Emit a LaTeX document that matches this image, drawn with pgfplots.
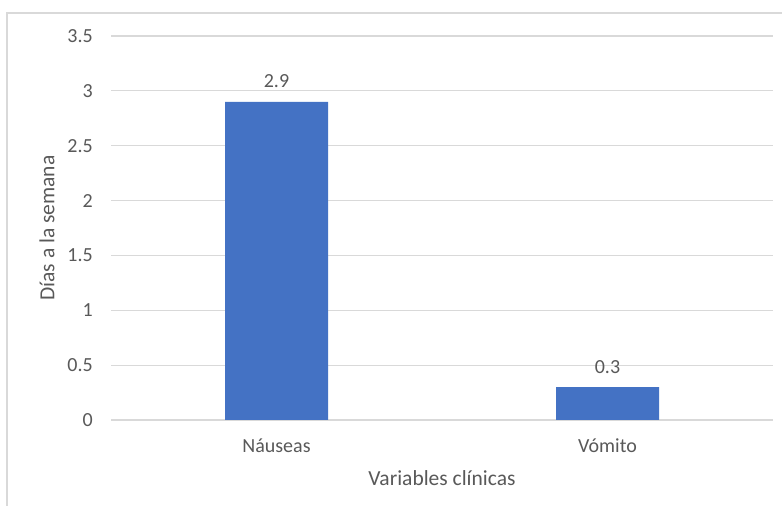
\documentclass[border=0pt]{standalone}
\usepackage{fontspec}
\setmainfont{Carlito}
\usepackage{pgfplots}
\pgfplotsset{compat=1.18}
\definecolor{barblue}{HTML}{4472C4}
\definecolor{txtgray}{HTML}{595959}
\definecolor{gridgray}{HTML}{D9D9D9}
\begin{document}
\begin{tikzpicture}[x=1bp,y=1bp]
\useasboundingbox (0,0) rectangle (782,506);
\fill[white] (0,0) rectangle (782,506);
\draw[gridgray, line width=1.5bp] (7,0) -- (7,493) -- (782,493);
\begin{axis}[
  at={(111bp,86bp)}, anchor=south west,
  scale only axis, width=662bp, height=384bp,
  xmin=-0.5, xmax=1.5, ymin=0, ymax=3.5,
  ytick={0,0.5,...,3.5},
  xtick={0,1}, xticklabels={Náuseas, Vómito},
  /pgf/number format/assume math mode=true,
  axis line style={draw=none},
  ymajorgrids, grid style={gridgray, line width=1.2bp},
  major tick length=0pt,
  tick style={draw=none},
  ticklabel style={font=\fontsize{20bp}{24bp}\selectfont, text=txtgray, inner sep=0pt},
  yticklabel style={anchor=east, xshift=-18bp},
  xticklabel style={anchor=base, yshift=-33bp},
  xlabel={Variables clínicas},
  ylabel={Días a la semana},
  label style={font=\fontsize{21.5bp}{25bp}\selectfont, text=txtgray, inner sep=0pt},
  xlabel style={at={([yshift=-66bp]axis description cs:0.5,0)}, anchor=base},
  ylabel style={at={([xshift=-64bp]axis description cs:0,0.5)}, anchor=center},
  nodes near coords,
  nodes near coords style={font=\fontsize{20bp}{24bp}\selectfont, text=txtgray, inner sep=0pt, anchor=base, yshift=14bp},
  /pgf/number format/fixed,
]
\addplot[ybar, bar width=103bp, fill=barblue, draw=none] coordinates {(0,2.9) (1,0.3)};
\end{axis}
\end{tikzpicture}
\end{document}
